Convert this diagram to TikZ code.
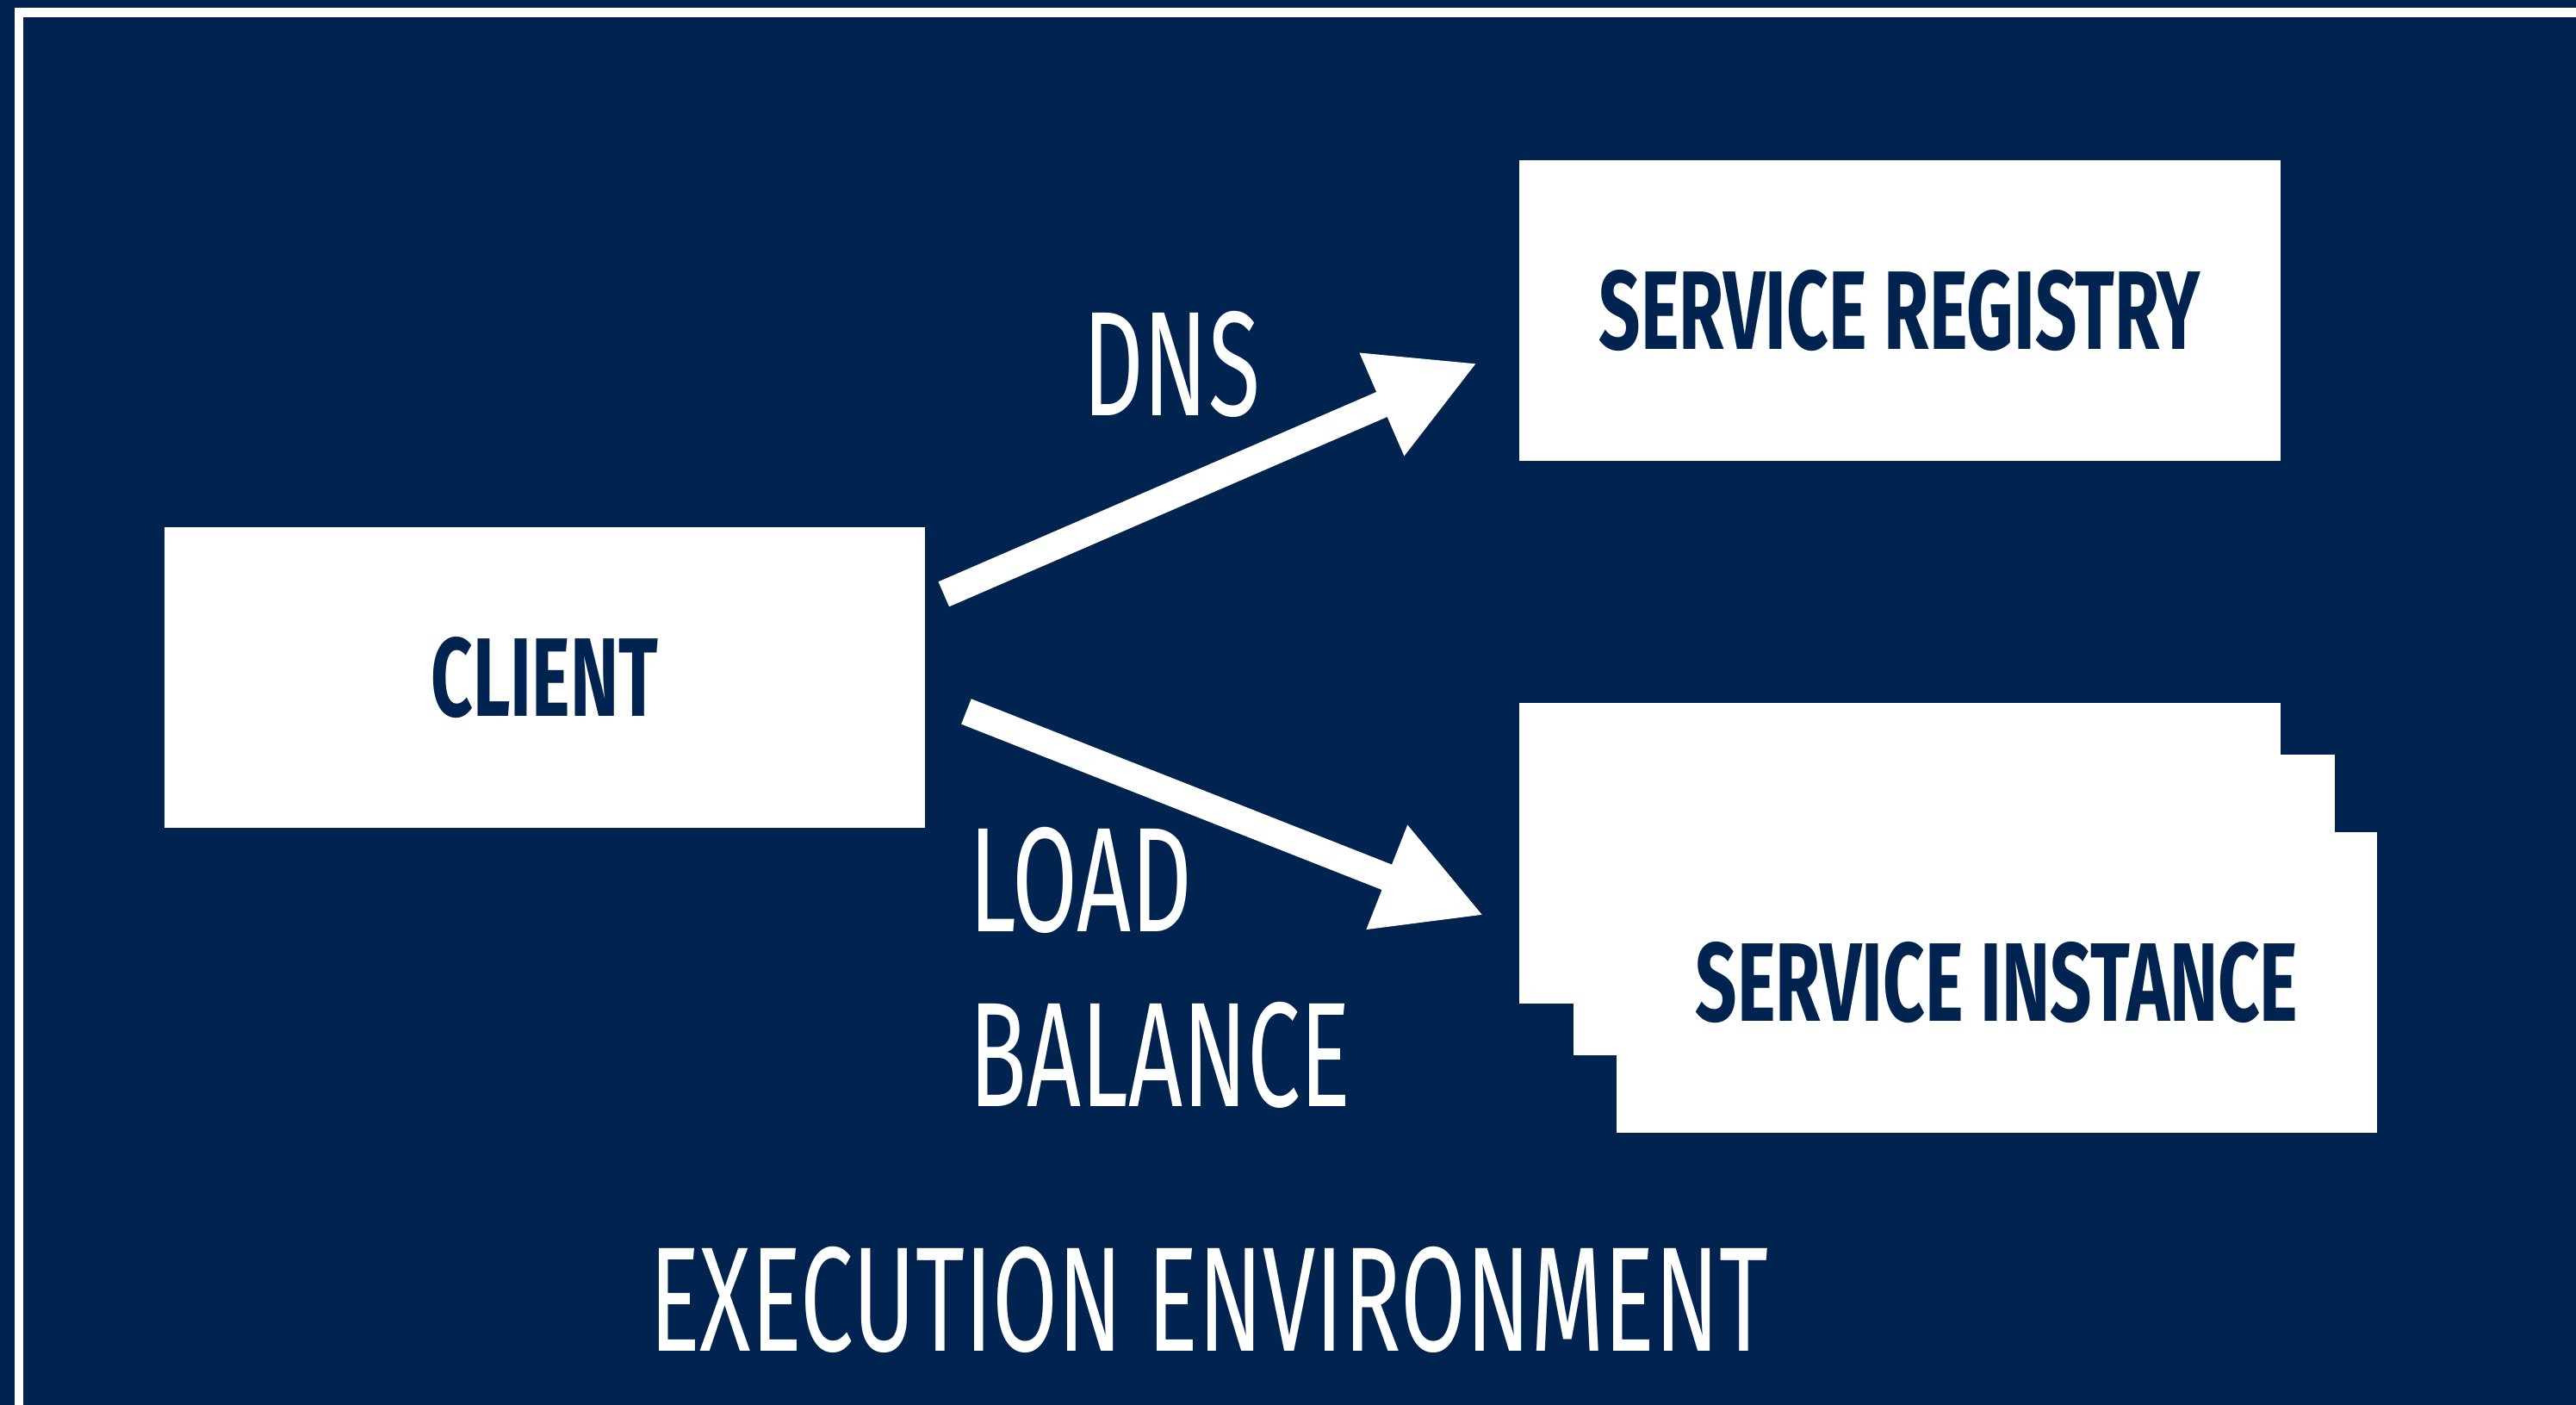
\documentclass[tikz,border=0pt]{standalone}
\usepackage{fontspec}
\usepackage{tikz}
\usetikzlibrary{arrows.meta,calc}
\newfontfamily\boxfont{Fira Sans}[FakeStretch=0.653]
\newfontfamily\lblfont{Fira Sans}[FakeStretch=0.636]
\definecolor{navy}{HTML}{00234F}

\tikzset{
  box/.style={fill=white, inner sep=0pt, minimum width=347.25pt, minimum height=137.25pt,
    text=navy, font=\boxfont\bfseries\fontsize{51}{61}\selectfont},
  lbl/.style={text=white, inner sep=0pt, font=\lblfont\fontsize{68}{80}\selectfont},
  bigarrow/.style={white, line width=12.4pt, -{Triangle[length=47.6pt,width=47.6pt]}}
}

\begin{document}
\begin{tikzpicture}[x=0.75pt,y=0.75pt,yscale=-1,xscale=1]
\useasboundingbox (0,0) rectangle (1568,855);
\fill[navy] (0,0) rectangle (1568,855);
\draw[white, line width=4.2pt] (11.5,870) -- (11.5,7.5) -- (1580,7.5);
% boxes
\node[box] (client) at (331.5,412.5) {CLIENT};
\node[box] (registry) at (1156.5,189) {SERVICE REGISTRY};
\node[box] (inst1) at (1156.5,519.5) {};
\node[box] (inst2) at (1189.5,550.5) {};
\node[box] (inst3) at (1215.5,598) {SERVICE INSTANCE};
% labels
\node[lbl] (dns) at (713,221.5) {DNS};
\node[lbl, anchor=north west, align=left] (lb) at (590,503) {LOAD\\BALANCE};
\node[lbl] (env) at (736,791) {EXECUTION ENVIRONMENT};
% arrows
\draw[bigarrow] ($(client.east)+(11.2,-50.9)$) -- ($(registry.west)+(-25.4,31.9)$);
\draw[bigarrow] ($(client.east)+(24.9,20.5)$) -- ($(inst1.west)+(-21.5,37.6)$);
\end{tikzpicture}
\end{document}
